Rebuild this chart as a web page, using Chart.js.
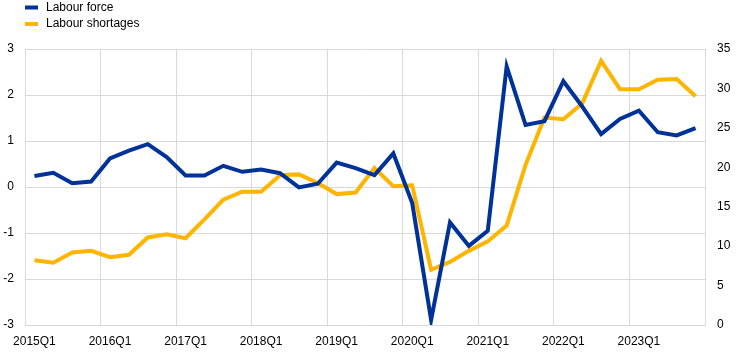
<!DOCTYPE html>
<html>
<head>
<meta charset="utf-8">
<script src="https://cdn.jsdelivr.net/npm/chart.js@4.4.1/dist/chart.umd.min.js"></script>
<style>
  html, body { margin: 0; padding: 0; background: #fff; }
  #wrap { width: 742px; height: 352px; }
</style>
</head>
<body>
<div id="wrap"><canvas id="chart" width="742" height="352"></canvas></div>
<script>
// Quarters 2015Q1 - 2023Q4
const QUARTERS = [];
for (let y = 2015; y <= 2023; y++) {
  for (let q = 1; q <= 4; q++) QUARTERS.push(y + 'Q' + q);
}

// Labour force (left axis)
const LABOUR_FORCE = [
  0.24, 0.31, 0.08, 0.12, 0.62, 0.79, 0.93, 0.65,
  0.25, 0.25, 0.46, 0.33, 0.38, 0.30, -0.01, 0.07,
  0.53, 0.41, 0.26, 0.73, -0.35, -2.89, -0.77, -1.28,
  -0.95, 2.62, 1.35, 1.43, 2.30, 1.75, 1.15, 1.48,
  1.66, 1.19, 1.12, 1.28
];

// Labour shortages (right axis)
const LABOUR_SHORTAGES = [
  8.2, 7.9, 9.2, 9.4, 8.6, 8.9, 11.1, 11.5,
  11.0, 13.4, 15.9, 16.9, 16.9, 19.0, 19.1, 18.0,
  16.6, 16.8, 19.9, 17.6, 17.7, 7.0, 8.0, 9.4,
  10.6, 12.6, 20.3, 26.3, 26.1, 28.1, 33.5, 29.9,
  29.9, 31.1, 31.2, 29.0
];

const BLUE = '#003299';
const YELLOW = '#ffb400';
const GRID = '#d9d9d9';
const FONT = { family: '"Liberation Sans", Arial, sans-serif', size: 12 };

// simple stacked legend in the top-left corner
const stackedLegend = {
  id: 'stackedLegend',
  afterDraw(chart) {
    const ctx = chart.ctx;
    ctx.save();
    ctx.font = FONT.size + 'px ' + FONT.family;
    ctx.textBaseline = 'middle';
    chart.data.datasets.forEach((ds, i) => {
      const y = 7.5 + i * 16.5;
      ctx.fillStyle = ds.borderColor;
      ctx.fillRect(25, y - 2, 13, 4);
      ctx.fillStyle = '#000';
      ctx.fillText(ds.label, 46, y);
    });
    ctx.restore();
  }
};

new Chart(document.getElementById('chart').getContext('2d'), {
  type: 'line',
  data: {
    labels: QUARTERS,
    datasets: [
      {
        label: 'Labour force',
        data: LABOUR_FORCE,
        borderColor: BLUE,
        backgroundColor: BLUE,
        borderWidth: 4,
        pointRadius: 0,
        tension: 0,
        yAxisID: 'y'
      },
      {
        label: 'Labour shortages',
        data: LABOUR_SHORTAGES,
        borderColor: YELLOW,
        backgroundColor: YELLOW,
        borderWidth: 4,
        pointRadius: 0,
        tension: 0,
        yAxisID: 'y2'
      }
    ]
  },
  plugins: [stackedLegend],
  options: {
    responsive: false,
    animation: false,
    layout: { padding: { left: 0, right: 0, top: 49, bottom: 0 } },
    plugins: {
      tooltip: { enabled: false },
      legend: { display: false }
    },
    scales: {
      x: {
        type: 'category',
        offset: true,
        afterFit: (scale) => { scale.height = 27; },
        grid: {
          offset: true,
          drawTicks: false,
          color: (ctx) => (ctx.index % 4 === 0 ? GRID : 'rgba(0,0,0,0)')
        },
        border: { color: GRID },
        ticks: {
          color: '#000',
          font: FONT,
          autoSkip: false,
          maxRotation: 0,
          padding: 9,
          callback: function (value, index) {
            return index % 4 === 0 ? this.getLabelForValue(value) : '';
          }
        }
      },
      y: {
        position: 'left',
        min: -3,
        max: 3,
        afterFit: (scale) => { scale.width = 25; },
        grid: { color: GRID, drawTicks: false },
        border: { color: GRID },
        ticks: { color: '#000', font: FONT, stepSize: 1, padding: 11 }
      },
      y2: {
        position: 'right',
        min: 0,
        max: 35,
        afterFit: (scale) => { scale.width = 37; },
        grid: { display: false, drawTicks: false },
        border: { color: GRID },
        ticks: { color: '#000', font: FONT, stepSize: 5, padding: 12 }
      }
    }
  }
});
</script>
</body>
</html>
